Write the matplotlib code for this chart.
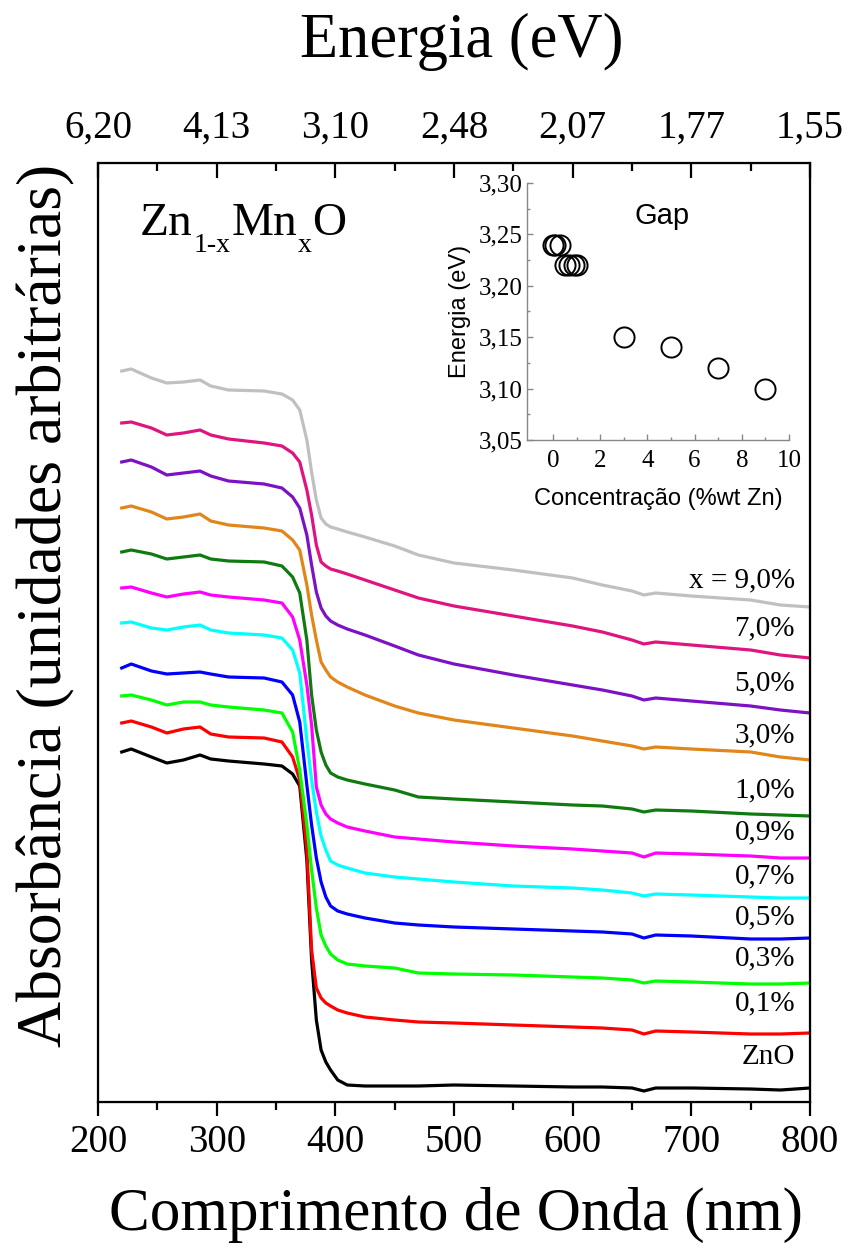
import numpy as np
import matplotlib.pyplot as plt

plt.rcParams['font.family'] = ['Liberation Serif', 'DejaVu Serif']

# wavelength grid (nm) shared by all spectra
wavelength = [220, 228, 245, 258, 272, 286, 295, 310, 340, 355, 364, 370, 376, 380,
              384, 388, 392, 396, 402, 410, 425, 450, 470, 500, 550, 600, 625, 650,
              660, 670, 700, 750, 775, 800]

# spectra, as image rows (bigger = lower); offset curves
s_zno = [752, 749, 757, 763, 760, 755, 759, 761, 764, 766, 774, 786, 860, 960,
         1020, 1050, 1062, 1070, 1080, 1085, 1086, 1086, 1086, 1085, 1086, 1087, 1087, 1088,
         1091, 1088, 1088, 1089, 1090, 1088]
s_01 = [723, 721, 727, 733, 729, 727, 734, 737, 738, 742, 757, 780, 850, 950,
        988, 998, 1003, 1006, 1010, 1013, 1017, 1020, 1022, 1023, 1025, 1027, 1028, 1030,
        1034, 1031, 1032, 1034, 1034, 1033]
s_03 = [696, 695, 700, 705, 702, 702, 705, 707, 710, 713, 732, 770, 825, 870,
        908, 935, 946, 954, 960, 964, 966, 968, 973, 974, 975, 977, 978, 980,
        983, 981, 982, 984, 984, 983]
s_05 = [668, 664, 671, 674, 673, 672, 674, 677, 678, 682, 695, 722, 785, 825,
        858, 882, 897, 906, 911, 914, 918, 923, 925, 927, 929, 931, 932, 934,
        938, 935, 936, 939, 939, 938]
s_07 = [623, 622, 628, 630, 627, 625, 630, 633, 635, 638, 650, 673, 740, 780,
        812, 836, 850, 861, 865, 868, 873, 877, 879, 882, 886, 888, 890, 893,
        896, 894, 895, 897, 898, 898]
s_09 = [588, 587, 593, 597, 594, 592, 595, 597, 600, 603, 617, 640, 685, 725,
        787, 805, 814, 819, 823, 827, 831, 837, 839, 842, 846, 849, 851, 853,
        857, 853, 854, 856, 858, 858]
s_10 = [552, 550, 554, 559, 557, 555, 559, 561, 562, 566, 577, 593, 640, 695,
        730, 752, 765, 773, 777, 780, 784, 790, 797, 799, 802, 805, 806, 809,
        812, 810, 811, 814, 815, 816]
s_30 = [508, 506, 512, 519, 517, 514, 521, 525, 528, 531, 540, 550, 585, 615,
        640, 662, 670, 677, 682, 687, 695, 706, 713, 720, 728, 736, 741, 746,
        749, 747, 749, 752, 757, 760]
s_50 = [462, 460, 467, 475, 473, 471, 476, 481, 484, 488, 497, 508, 535, 565,
        592, 608, 616, 621, 625, 629, 635, 646, 655, 664, 675, 685, 690, 696,
        700, 698, 701, 706, 710, 713]
s_70 = [423, 422, 428, 435, 433, 430, 435, 439, 443, 446, 453, 462, 490, 515,
        545, 562, 566, 569, 571, 574, 580, 590, 598, 606, 616, 626, 632, 640,
        644, 642, 645, 650, 655, 658]
s_90 = [371, 369, 378, 383, 382, 380, 386, 390, 391, 394, 400, 410, 440, 472,
        500, 518, 524, 527, 529, 532, 537, 546, 555, 563, 570, 578, 585, 591,
        595, 593, 596, 600, 605, 607]

labels = ['ZnO', '0,1%', '0,3%', '0,5%', '0,7%', '0,9%', '1,0%', '3,0%', '5,0%', '7,0%', 'x = 9,0%']
colors = ['#000000', '#ff0000', '#00ff00', '#0000ff', '#00ffff', '#ff00ff',
          '#0f7a0f', '#e0861a', '#7d12c4', '#e0147f', '#c0c0c0']
label_rows = [1057, 1003, 958, 917, 876, 832, 790, 735, 683, 628, 580]

# top axis: photon energy at the bottom tick positions
wl_ticks = [200, 300, 400, 500, 600, 700, 800]
energy_labels = ['6,20', '4,13', '3,10', '2,48', '2,07', '1,77', '1,55']

# inset: band gap vs concentration
conc = [0, 0.1, 0.3, 0.5, 0.7, 0.9, 1.0, 3, 5, 7, 9]
gap = [3.24, 3.24, 3.24, 3.22, 3.22, 3.22, 3.22, 3.15, 3.14, 3.12, 3.10]

W, H = 848, 1248
fig = plt.figure(figsize=(W / 100, H / 100), dpi=100)
ax = fig.add_axes([98 / W, 1 - 1102 / H, 712 / W, 939 / H])

spectra = [s_zno, s_01, s_03, s_05, s_07, s_09, s_10, s_30, s_50, s_70, s_90]
for rows, c in zip(spectra, colors):
    ax.plot(wavelength, 1102 - np.array(rows), color=c, lw=2.3)

for lab, r in zip(labels, label_rows):
    ax.text(0.979, (1102 - r) / 939, lab, transform=ax.transAxes,
            ha='right', va='center', fontsize=21)

ax.set_xlim(200, 800)
ax.set_ylim(0, 939)
ax.set_xticks(wl_ticks)
ax.set_xticks([250, 350, 450, 550, 650, 750], minor=True)
ax.tick_params(axis='x', which='major', direction='out', length=10, width=1.6,
               labelsize=28, pad=6)
ax.tick_params(axis='x', which='minor', direction='out', length=6, width=1.6)
ax.tick_params(axis='y', left=False, labelleft=False)
for sp in ax.spines.values():
    sp.set_linewidth(1.6)

top = ax.twiny()
top.set_xlim(200, 800)
top.set_xticks(wl_ticks)
top.set_xticklabels(energy_labels)
top.set_xticks([250, 350, 450, 550, 650, 750], minor=True)
top.tick_params(axis='x', which='major', direction='in', length=11, width=1.6,
                labelsize=28, pad=12)
top.tick_params(axis='x', which='minor', direction='in', length=6, width=1.6)

fig.text(462 / W, 1 - 42 / H, 'Energia (eV)', ha='center', va='center', fontsize=45)
fig.text(456 / W, 1 - 1215 / H, 'Comprimento de Onda (nm)', ha='center', va='center',
         fontsize=44)
fig.text(46 / W, 1 - 605 / H, 'Absorbância (unidades arbitrárias)', rotation=90,
         ha='center', va='center', fontsize=46)

# Zn1-xMnxO with subscripts
t_zn = ax.text(0.059, 0.923, 'Zn', transform=ax.transAxes, va='baseline', fontsize=34)
t_s1 = ax.annotate('1-x', xy=(1, 0), xycoords=t_zn, xytext=(0.5, -5),
                   textcoords='offset points', va='baseline', fontsize=20)
t_mn = ax.annotate('Mn', xy=(1, 0), xycoords=(t_s1, t_zn), xytext=(0.5, 0),
                   textcoords='offset points', va='bottom', fontsize=34)
t_s2 = ax.annotate('x', xy=(1, 0), xycoords=t_mn, xytext=(0.5, -5),
                   textcoords='offset points', va='baseline', fontsize=20)
ax.annotate('O', xy=(1, 0), xycoords=(t_s2, t_zn), xytext=(0.5, 0),
            textcoords='offset points', va='bottom', fontsize=34)

# inset
axin = fig.add_axes([527 / W, 1 - 440 / H, 262 / W, 257 / H])
axin.patch.set_alpha(0)
axin.plot(conc, gap, 'o', mfc='none', mec='black', ms=14.5, mew=1.4)
axin.set_xlim(-1.1, 10)
axin.set_ylim(3.05, 3.30)
axin.spines['top'].set_visible(False)
axin.spines['right'].set_visible(False)
for s in ('left', 'bottom'):
    axin.spines[s].set_color('#888888')
    axin.spines[s].set_linewidth(1.0)
axin.set_xticks([0, 2, 4, 6, 8, 10])
axin.set_xticklabels(['0', '2', '4', '6', '8', '10'])
axin.set_xticks([1, 3, 5, 7, 9], minor=True)
yt = [3.05, 3.10, 3.15, 3.20, 3.25, 3.30]
axin.set_yticks(yt)
axin.set_yticklabels([f'{v:.2f}'.replace('.', ',') for v in yt])
axin.set_yticks([3.075, 3.125, 3.175, 3.225, 3.275], minor=True)
axin.tick_params(which='both', direction='in', color='#888888', width=1.0,
                 labelsize=18)
axin.tick_params(axis='x', pad=7)
axin.tick_params(axis='y', pad=3)
axin.tick_params(which='major', length=4)
axin.tick_params(which='minor', length=2.5)
axin.set_xlabel('Concentração (%wt Zn)', family='Liberation Sans', fontsize=17, labelpad=12)
axin.set_ylabel('Energia (eV)', family='Liberation Sans', fontsize=17, labelpad=6)
axin.text(0.515, 0.87, 'Gap', transform=axin.transAxes, ha='center', va='center',
          family='Liberation Sans', fontsize=21)

fig.savefig('out.png', dpi=100)
